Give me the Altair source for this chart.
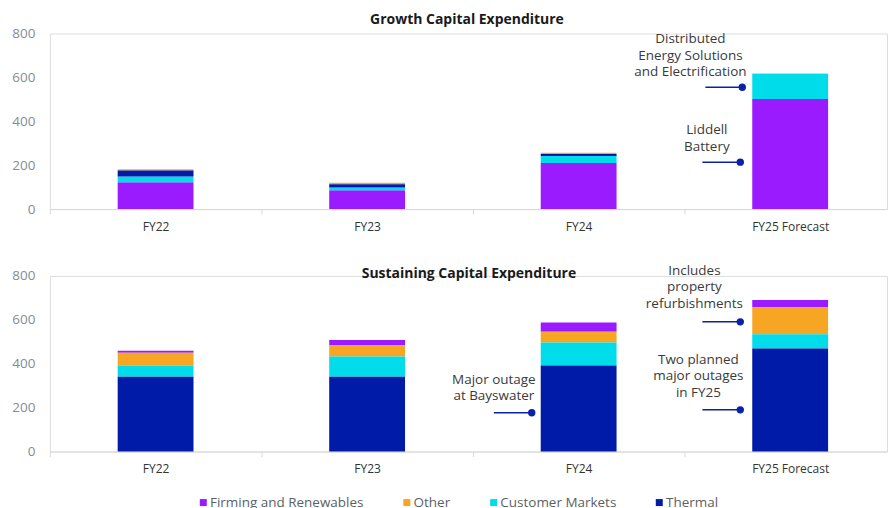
import altair as alt
import pandas as pd

years = ["FY22", "FY23", "FY24", "FY25 Forecast"]
series = ["Firming and Renewables", "Other", "Customer Markets", "Thermal"]
colors = ["#9b1bff", "#f6a623", "#00dcea", "#001ba8"]

# Growth capital expenditure
growth_firming = [122, 86, 210, 502]
growth_other = [5, 7, 6, 3]
growth_customer = [27, 12, 32, 113]
growth_thermal = [27, 15, 9, 0]
growth_stack = ["Firming and Renewables", "Customer Markets", "Thermal", "Other"]

# Sustaining capital expenditure
sustain_firming = [9, 23, 42, 32]
sustain_other = [58, 52, 49, 124]
sustain_customer = [51, 92, 105, 65]
sustain_thermal = [341, 341, 392, 469]
sustain_stack = ["Thermal", "Customer Markets", "Other", "Firming and Renewables"]

# Annotations
growth_note_text = ["Distributed\nEnergy Solutions\nand Electrification", "Liddell\nBattery"]
growth_note_cat = ["FY25 Forecast", "FY25 Forecast"]
growth_note_y = [773, 359]
growth_note_marker = [555, 214]

sustain_note_text = ["Includes\nproperty\nrefurbishments", "Two planned\nmajor outages\nin FY25", "Major outage\nat Bayswater"]
sustain_note_cat = ["FY25 Forecast", "FY25 Forecast", "FY24"]
sustain_note_y = [823, 418, 327]
sustain_note_marker = [591, 190, 177]

FONT = "Open Sans"
MARK_BLUE = "#0a22a8"


def make_df(firming, other, customer, thermal, stack):
    rows = []
    vals = {"Firming and Renewables": firming, "Other": other,
            "Customer Markets": customer, "Thermal": thermal}
    for s in series:
        for i, y in enumerate(years):
            rows.append({"year": y, "series": s, "value": vals[s][i],
                         "ord": stack.index(s)})
    return pd.DataFrame(rows)


x_scale = alt.Scale(domain=years, paddingInner=0.6415, paddingOuter=0.2995, align=0.535)
y_scale = alt.Scale(domain=[0, 800], nice=False)


def panel(title, df, notes, text_dx, rule_dx, title_x, title_y, show_legend):
    bars = alt.Chart(df).mark_bar().encode(
        x=alt.X("year:N", sort=years, scale=x_scale, title=None,
                axis=alt.Axis(labelAngle=0, tickOffset=-106, labelOffset=106,
                              domainColor="#d9d9d9", tickColor="#d9d9d9",
                              tickSize=5, labelPadding=7, labelFontSize=12,
                              labelColor="#333333", labelFont=FONT)),
        y=alt.Y("value:Q", scale=y_scale, title=None, stack="zero",
                axis=alt.Axis(values=[0, 200, 400, 600, 800], ticks=False,
                              domain=False, grid=False, labelPadding=15,
                              labelFontSize=13.5, labelColor="#878c95",
                              labelFont=FONT)),
        color=alt.Color("series:N", scale=alt.Scale(domain=series, range=colors),
                        legend=alt.Legend(title=None, orient="none", direction="horizontal",
                                          legendX=147, legendY=463,
                                          symbolType="square", symbolSize=49,
                                          symbolStrokeWidth=0,
                                          labelFontSize=13.5, labelFont=FONT,
                                          labelColor="#5b5f66", columnPadding=36,
                                          labelOffset=0) if show_legend else None),
        order=alt.Order("ord:Q", sort="ascending"),
    )
    layers = [bars]
    ttl = alt.Chart(pd.DataFrame({"t": [title]})).mark_text(
        font=FONT, fontSize=14, fontWeight="bold", color="#1a1a1a",
        align="center", baseline="middle").encode(
        text="t:N", x=alt.value(title_x), y=alt.value(title_y))
    layers.append(ttl)
    texts, cats, ys, markers = notes
    for i in range(len(texts)):
        d = pd.DataFrame({"year": [cats[i]], "label": [texts[i]],
                          "ty": [ys[i]], "my": [markers[i]]})
        base = alt.Chart(d)
        layers.append(base.mark_text(font=FONT, fontSize=13.5, color="#3a3a3a",
                                     align="center", baseline="middle",
                                     lineBreak="\n", lineHeight=16.5,
                                     xOffset=text_dx[i]).encode(
            x=alt.X("year:N", sort=years), y=alt.Y("ty:Q"), text="label:N"))
        layers.append(base.mark_rule(color=MARK_BLUE, strokeWidth=1.5,
                                     xOffset=rule_dx[i][0], x2Offset=rule_dx[i][1]).encode(
            x=alt.X("year:N", sort=years), x2="year:N", y=alt.Y("my:Q")))
        layers.append(base.mark_circle(color=MARK_BLUE, opacity=1, size=55,
                                       xOffset=rule_dx[i][1]).encode(
            x=alt.X("year:N", sort=years), y=alt.Y("my:Q")))
    return alt.layer(*layers).properties(width=839, height=176)


growth_df = make_df(growth_firming, growth_other, growth_customer, growth_thermal, growth_stack)
sustain_df = make_df(sustain_firming, sustain_other, sustain_customer, sustain_thermal, sustain_stack)

top = panel("Growth Capital Expenditure", growth_df,
            (growth_note_text, growth_note_cat, growth_note_y, growth_note_marker),
            [-100, -83.5], [(-85, -48), (-88, -50)], 418, -14, True)
bottom = panel("Sustaining Capital Expenditure", sustain_df,
               (sustain_note_text, sustain_note_cat, sustain_note_y, sustain_note_marker),
               [-96, -92, -85], [(-88, -50), (-88, -50), (-85, -47)], 420, -2, True)

chart = alt.vconcat(top, bottom, spacing=30).resolve_scale(color="shared").properties(
    padding={"left": 11, "top": 11, "right": 0, "bottom": 0}
).configure_view(stroke=None).configure(font=FONT, background="white")

chart.save("out.html", embed_options={"renderer": "svg", "actions": False})
